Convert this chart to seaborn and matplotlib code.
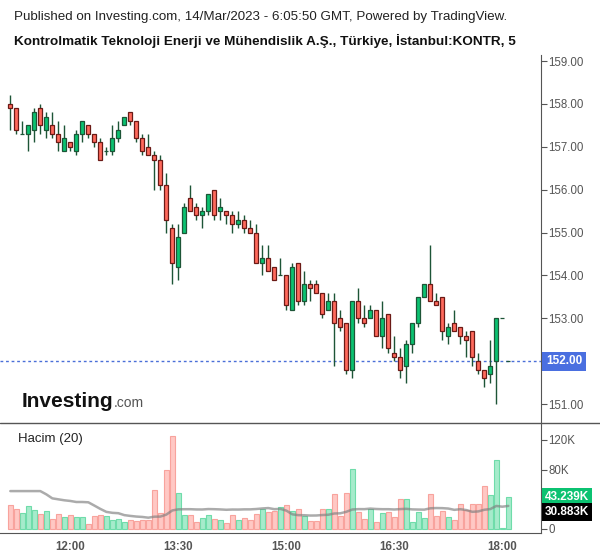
#-------------------------------------------
# KONTR 5-minute candles with volume panel
#-------------------------------------------

import numpy as np
import pandas as pd
import matplotlib
matplotlib.use("Agg")
import matplotlib.pyplot as plt
import matplotlib.ticker as mtick
import matplotlib.transforms as mtrans
from matplotlib.lines import Line2D
import seaborn as sns

#------------------ DATA -------------------------------------------

opens = [158.0, 157.9, 157.3, 157.3, 157.4, 157.9, 157.4, 157.5, 157.3, 156.9,
         157.1, 156.9, 157.3, 157.5, 157.3, 157.1, 156.9, 156.9, 157.2, 157.5,
         157.8, 157.6, 157.2, 157.0, 156.8, 156.7, 156.1, 155.1, 154.2, 155.0,
         155.8, 155.6, 155.4, 155.5, 156.0, 155.5, 155.5, 155.4, 155.2, 155.3,
         155.1, 155.0, 154.3, 154.4, 154.2, 154.0, 154.0, 153.2, 154.3, 153.4,
         153.8, 153.8, 153.6, 153.2, 153.4, 153.0, 152.9, 151.8, 153.4, 153.0,
         153.0, 153.2, 152.6, 153.1, 152.2, 152.1, 151.9, 152.4, 152.9, 153.5,
         153.8, 153.4, 153.5, 152.6, 152.9, 152.8, 152.6, 152.7, 152.0, 151.8,
         151.7, 152.0, 153.0, 152.0]
highs = [158.2, 157.9, 157.6, 157.5, 157.9, 158.0, 157.8, 157.8, 157.6, 157.5,
         157.1, 157.4, 157.6, 157.5, 157.3, 157.2, 157.0, 157.5, 157.6, 157.7,
         157.8, 157.6, 157.3, 157.3, 156.9, 156.8, 156.4, 155.2, 155.2, 155.7,
         156.1, 155.7, 155.6, 155.9, 156.0, 155.8, 155.5, 155.5, 155.5, 155.4,
         155.3, 155.2, 154.7, 154.7, 154.2, 154.4, 154.0, 154.3, 154.3, 154.1,
         153.9, 153.9, 153.6, 153.6, 153.6, 153.2, 152.9, 153.4, 153.7, 153.3,
         153.3, 153.2, 153.4, 153.1, 152.6, 152.3, 152.5, 152.9, 153.5, 153.8,
         154.7, 153.6, 153.5, 152.9, 153.2, 152.8, 152.7, 152.7, 152.2, 151.8,
         152.5, 153.0, 153.0, 152.0]
lows = [157.4, 157.3, 157.3, 156.9, 157.1, 157.3, 157.2, 157.2, 156.9, 156.9,
        156.9, 156.8, 157.1, 157.2, 157.0, 156.7, 156.8, 156.8, 157.1, 157.5,
        157.5, 157.1, 156.8, 156.8, 156.0, 156.0, 155.0, 153.8, 153.9, 155.0,
        155.5, 155.3, 155.1, 155.4, 155.3, 155.3, 155.2, 155.0, 155.1, 155.0,
        155.0, 154.3, 154.0, 154.1, 153.9, 154.0, 153.2, 153.2, 153.3, 153.3,
        153.4, 153.6, 153.0, 153.2, 151.9, 152.7, 151.7, 151.6, 152.9, 152.8,
        153.0, 152.6, 152.3, 152.2, 152.0, 151.6, 151.5, 152.2, 152.8, 153.5,
        153.4, 153.3, 152.5, 152.4, 152.7, 152.4, 152.1, 151.9, 151.7, 151.4,
        151.5, 151.0, 153.0, 152.0]
closes = [157.9, 157.4, 157.3, 157.5, 157.8, 157.5, 157.7, 157.3, 157.1, 157.2,
          157.0, 157.3, 157.6, 157.3, 157.1, 156.7, 156.9, 157.2, 157.4, 157.7,
          157.6, 157.2, 156.9, 156.8, 156.7, 156.1, 155.3, 154.3, 154.9, 155.6,
          155.5, 155.4, 155.5, 155.9, 155.4, 155.6, 155.4, 155.2, 155.3, 155.1,
          155.0, 154.3, 154.4, 154.1, 153.9, 154.0, 153.3, 154.2, 153.4, 153.8,
          153.7, 153.6, 153.1, 153.4, 152.9, 152.8, 151.8, 153.4, 153.0, 152.9,
          153.2, 152.6, 153.0, 152.3, 152.1, 151.8, 152.4, 152.9, 153.5, 153.8,
          153.4, 153.3, 152.7, 152.8, 152.7, 152.6, 152.5, 152.1, 151.8, 151.6,
          151.9, 153.0, 153.0, 152.0]

# volume in thousands
volumes = [32.9, 27.6, 22.2, 31.6, 26.2, 19.6, 24.9, 12.9, 19.6, 15.6,
           18.2, 15.6, 15.6, 6.2, 16.9, 18.2, 16.9, 11.6, 12.9, 8.9,
           11.6, 10.2, 11.6, 11.6, 53.0, 22.2, 79.0, 125.0, 49.0, 19.0,
           18.7, 8.9, 14.3, 18.3, 13.0, 12.0, 7.6, 18.3, 11.7, 14.3,
           11.7, 19.7, 26.4, 22.4, 23.7, 29.0, 33.0, 24.5, 26.5, 17.0,
           10.3, 10.3, 26.5, 26.5, 46.7, 17.0, 48.0, 80.4, 22.5, 13.0,
           26.5, 9.0, 21.0, 22.5, 15.7, 40.0, 40.0, 9.0, 22.5, 14.4,
           46.7, 17.0, 23.8, 15.7, 11.7, 33.7, 25.2, 33.3, 33.3, 57.5,
           45.4, 92.6, 1.5, 43.239]

# volume MA before a full 20-bar window exists
ma_early = [51.1, 51.1, 51.1, 51.1, 51.1, 51.1, 46.7, 41.3, 40.0, 38.7,
            37.8, 36.4, 36.4, 36.0, 31.6, 27.1, 23.1, 21.8, 21.3]

tick_labels = ["12:00", "13:30", "15:00", "16:30", "18:00"]
price_ticks = [151, 153, 154, 155, 156, 157, 158, 159]   # 152 sits under the last-price tag
vol_ticks = [0, 80, 120]
last_price = 152.00
last_vol = 43.239
last_ma = 30.883

#------------------ PREP -------------------------------------------

d = pd.DataFrame({'open': opens, 'high': highs, 'low': lows,
                  'close': closes, 'volume': volumes})
d['time'] = pd.date_range("2023-03-13 11:10", periods=len(d), freq="5min")
d['x'] = np.arange(len(d))
d['up'] = d['close'] >= d['open']

ma = d['volume'].rolling(20).mean()
ma.iloc[:len(ma_early)] = ma_early
d['ma'] = ma

tick_pos = [d.loc[d['time'].dt.strftime('%H:%M') == t, 'x'].iloc[0] for t in tick_labels]

#------------------ PLOT -------------------------------------------

sns.set_style("white")
plt.rcParams['font.family'] = ['Liberation Sans', 'DejaVu Sans']

W, H = 600, 558
fig = plt.figure(figsize=(6, 5.58), dpi=100)

def box(x0, y0, x1, y1):
    return [x0 / W, 1 - y1 / H, (x1 - x0) / W, (y1 - y0) / H]

ax = fig.add_axes(box(0, 55, 541, 423))
axv = fig.add_axes(box(0, 423, 541, 533), sharex=ax)

axis_col = '#555555'
wick_col = '#1d5537'

# Candles

up = d[d['up']]
dn = d[~d['up']]
ax.vlines(d['x'], d['low'], d['high'], color=wick_col, lw=1, zorder=1)
ax.bar(up['x'], up['close'] - up['open'], bottom=up['open'], width=0.72,
       color='#0bc271', edgecolor=wick_col, lw=0.9, zorder=2)
ax.bar(dn['x'], dn['open'] - dn['close'], bottom=dn['close'], width=0.72,
       color='#ff6a5c', edgecolor='#6a1a16', lw=0.9, zorder=2)

ax.axhline(last_price, color='#4a6fd8', lw=1, ls=(0, (2, 2)), zorder=0)

ax.set_xlim(-1.72, 88.45)
ax.set_ylim(150.56, 159.14)
ax.yaxis.tick_right()
ax.set_yticks(price_ticks)
ax.yaxis.set_major_formatter(mtick.StrMethodFormatter('{x:.2f}'))
ax.tick_params(axis='y', direction='out', length=4, color=axis_col,
               labelcolor=axis_col, labelsize=8.3, pad=1.5)
ax.tick_params(axis='x', bottom=False, labelbottom=False)
for s in ['top', 'left', 'bottom']:
    ax.spines[s].set_visible(False)
ax.spines['right'].set_color(axis_col)

ax.annotate(f'{last_price:.2f}', xy=(1.0, last_price),
            xycoords=mtrans.blended_transform_factory(ax.transAxes, ax.transData),
            xytext=(3.5, 0), textcoords='offset points', ha='left', va='center',
            color='white', fontsize=8.5, fontweight='bold',
            bbox=dict(boxstyle='square,pad=0.3', fc='#4a6fe0', ec='none'))

# Volume

vup = d[d['up']]
vdn = d[~d['up']]
axv.bar(vup['x'], vup['volume'], width=0.85, color='#a6ebcb',
        edgecolor='#6fdcaa', lw=0.8)
axv.bar(vdn['x'], vdn['volume'], width=0.85, color='#ffc8c4',
        edgecolor='#f8a39d', lw=0.8)
sns.lineplot(x=d['x'], y=d['ma'], ax=axv, color='#7f7f7f', alpha=0.65, lw=1.8)

axv.set_ylim(-5.4, 142.9)
axv.yaxis.tick_right()
axv.set_yticks(vol_ticks)
axv.yaxis.set_major_formatter(mtick.FuncFormatter(lambda v, p: '0' if v == 0 else f'{v:.0f}K'))
axv.set_xticks(tick_pos)
axv.set_xticklabels(tick_labels)
axv.tick_params(axis='y', direction='out', length=4, color=axis_col,
                labelcolor=axis_col, labelsize=8.3, pad=1.5)
axv.tick_params(axis='x', direction='out', length=4, color=axis_col,
                labelcolor=axis_col, labelsize=8.3, pad=2)
for lab in axv.get_xticklabels():
    lab.set_fontweight('bold')
axv.set_xlabel('')
axv.set_ylabel('')
for s in ['top', 'left']:
    axv.spines[s].set_visible(False)
axv.spines['right'].set_color(axis_col)
axv.spines['bottom'].set_color(axis_col)

vtrans = mtrans.blended_transform_factory(axv.transAxes, axv.transData)
axv.annotate(f'{last_vol:.3f}K', xy=(1.0, last_vol), xycoords=vtrans,
             xytext=(2.5, 0), textcoords='offset points', ha='left', va='center',
             color='white', fontsize=8.5, fontweight='bold',
             bbox=dict(boxstyle='square,pad=0.25', fc='#0bc271', ec='none'))
axv.annotate(f'{last_ma:.3f}K', xy=(1.0, last_ma), xycoords=vtrans,
             xytext=(2.5, -4.5), textcoords='offset points', ha='left', va='center',
             color='white', fontsize=8.5, fontweight='bold',
             bbox=dict(boxstyle='square,pad=0.25', fc='black', ec='none'))

# Separator between panels

fig.add_artist(Line2D([0, 1], [1 - 423 / H] * 2, color=axis_col, lw=1))

# Titles and labels

fig.text(14 / W, 1 - 17 / H, 'Published on Investing.com, 14/Mar/2023 - 6:05:50 GMT, Powered by TradingView.',
         fontsize=9.6, color='#222222', va='center')
fig.text(14 / W, 1 - 41 / H, 'Kontrolmatik Teknoloji Enerji ve Mühendislik A.Ş., Türkiye, İstanbul:KONTR, 5',
         fontsize=9.7, fontweight='bold', color='#111111', va='center')
fig.text(18 / W, 1 - 439 / H, 'Hacim (20)', fontsize=9.5, color='#222222', va='center')

logo = fig.text(22 / W, 1 - 407 / H, 'Investing', fontsize=15, fontweight='bold',
                color='#111111', va='baseline')
r = fig.canvas.get_renderer()
bb = logo.get_window_extent(renderer=r)
fig.text(bb.x1 / W + 0.5 / W, 1 - 407 / H, '.com', fontsize=10, color='#555555', va='baseline')

# Save plot

plt.savefig('out.png', dpi=100)
